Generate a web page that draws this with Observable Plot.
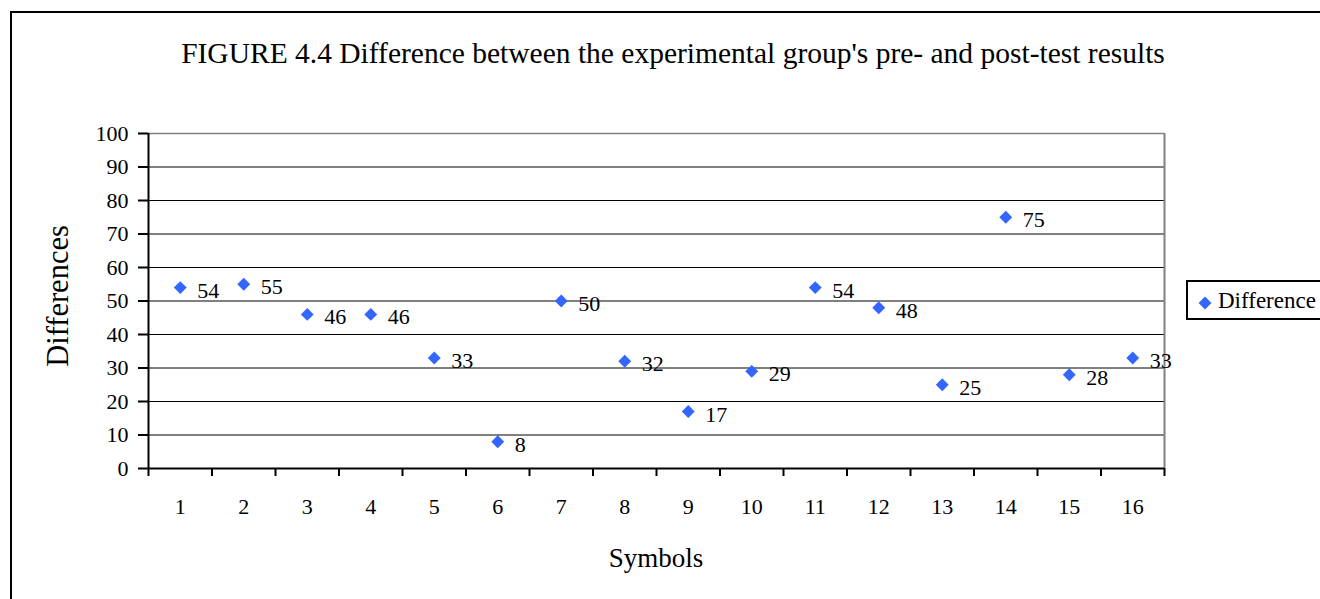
<!DOCTYPE html>
<html><head><meta charset="utf-8">
<script src="https://cdn.jsdelivr.net/npm/d3@7"></script>
<script src="https://cdn.jsdelivr.net/npm/@observablehq/plot@0.6"></script>
<style>
html,body{margin:0;padding:0;width:1320px;height:599px;overflow:hidden;background:#fff;font-family:"Liberation Serif","Times New Roman",serif;}
#frame{position:absolute;left:10px;top:11px;width:1400px;height:700px;border:2px solid #000;box-sizing:border-box;}
#chart{position:absolute;left:0;top:0;}
.t{position:absolute;white-space:nowrap;line-height:normal;color:#000;font-family:"Liberation Serif","Times New Roman",serif;}
#title{left:673px;top:37px;font-size:29.5px;transform:translateX(-50%);}
#xlabel{left:656px;top:543px;font-size:27px;transform:translateX(-50%);}
#ylabel{left:58px;top:296px;font-size:30.5px;transform:translate(-50%,-50%) rotate(-90deg);}
#legend{position:absolute;left:1186px;top:280px;width:200px;height:40px;border:2px solid #000;box-sizing:border-box;}
#legend svg{position:absolute;left:10px;top:14px;}
#legend span{position:absolute;left:30px;top:6px;font-size:23px;line-height:normal;white-space:nowrap;font-family:"Liberation Serif","Times New Roman",serif;}
</style>
</head><body>
<div id="frame"></div>
<div id="chart"></div>
<div class="t" id="title">FIGURE 4.4 Difference between the experimental group's pre- and post-test results</div>
<div class="t" id="xlabel">Symbols</div>
<div class="t" id="ylabel">Differences</div>
<div id="legend"><svg width="14" height="14"></svg><span>Difference</span></div>
<script>
const categories = [1,2,3,4,5,6,7,8,9,10,11,12,13,14,15,16];
const values = [54,55,46,46,33,8,50,32,17,29,54,48,25,75,28,33];
const yTicks = [0,10,20,30,40,50,60,70,80,90,100];
const seriesName = "Difference";
const color = "#3366FF";
const serif = "'Liberation Serif','Times New Roman',serif";

const data = categories.map((c, i) => ({symbol: c, value: values[i]}));
const xDomain = [categories[0] - 0.5, categories[categories.length - 1] + 0.5];
const boundaries = categories.map(c => c - 0.5).concat([xDomain[1]]);
const yDomain = [yTicks[0], yTicks[yTicks.length - 1]];

const chart = Plot.plot({
  width: 1320,
  height: 599,
  marginLeft: 148,
  marginRight: 156,
  marginTop: 133,
  marginBottom: 131,
  style: {fontFamily: serif, fontSize: "22px", color: "#000", background: "transparent"},
  x: {type: "linear", domain: xDomain},
  y: {domain: yDomain},
  marks: [
    Plot.gridY(yTicks.filter(v => v > yDomain[0] && v < yDomain[1]), {stroke: "#000", strokeOpacity: 1, strokeWidth: 1}),
    Plot.ruleY([yDomain[1]], {stroke: "#808080", strokeWidth: 1.5}),
    Plot.ruleX([xDomain[1]], {stroke: "#808080", strokeWidth: 2}),
    Plot.ruleX([xDomain[0]], {stroke: "#000", strokeWidth: 2}),
    Plot.ruleY([yDomain[0]], {stroke: "#000", strokeWidth: 2}),
    Plot.axisY(yTicks, {tickSize: 10, tickPadding: 10, fontSize: 22, fontFamily: serif, label: null, strokeWidth: 2}),
    Plot.axisX(boundaries, {tickSize: 8, tickFormat: () => "", label: null, strokeWidth: 2}),
    Plot.axisX(categories, {tickSize: 0, tickPadding: 30, fontSize: 22, fontFamily: serif, label: null, tickFormat: d => String(d)}),
    Plot.dot(data, {x: "symbol", y: "value", symbol: "diamond2", r: 5.8, fill: color, stroke: null}),
    Plot.text(data, {x: "symbol", y: "value", text: d => String(d.value), dx: 17, dy: 3, textAnchor: "start", fontSize: 22, fontFamily: serif, fill: "#000"})
  ]
});
document.getElementById("chart").appendChild(chart);

// legend swatch
const sw = d3.select("#legend svg");
sw.append("path").attr("transform", "translate(7,7)")
  .attr("d", d3.symbol(d3.symbolDiamond2, Math.PI * 5.8 * 5.8)()).attr("fill", color);
document.querySelector("#legend span").textContent = seriesName;
</script>
</body></html>
